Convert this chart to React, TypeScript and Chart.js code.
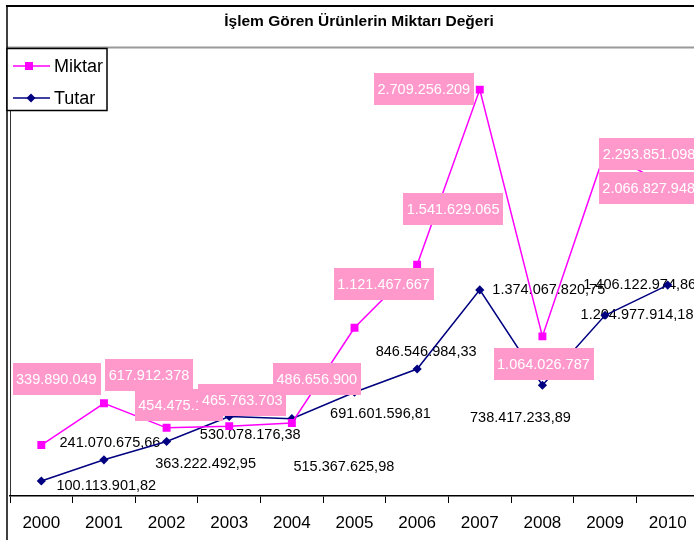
import React, { useEffect, useRef } from "react";
import { Chart, registerables } from "chart.js";

Chart.register(...registerables);

const chartTitle = "İşlem Gören Ürünlerin Miktarı Değeri";
const years = ["2000", "2001", "2002", "2003", "2004", "2005", "2006", "2007", "2008", "2009", "2010"];
const miktar = [339890049, 617912378, 454475150, 465763703, 486656900, 1121467667, 1541629065, 2709256209, 1064026787, 2293851098, 2066827948];
const tutar = [100113901.82, 241070675.66, 363222492.95, 530078176.38, 515367625.98, 691601596.81, 846546984.33, 1374067820.75, 738417233.89, 1204977914.18, 1406122974.86];

// label centre offsets relative to their points (px)
const miktarLabelOffsets = [[15, -66], [45, -28], [12, -23], [13, -26], [25, -44], [29, -44], [36, -56], [-56, -1], [1, 28], [44, 2], [-19, 2]];
const tutarLabelOffsets = [[65, 5], [6, -17], [39, 22], [21, 19], [52, 48], [26, 22], [9, -17], [69, 0], [-22, 33], [32, 0], [-28, 0]];

const FONT = "'Liberation Sans', Arial, sans-serif";

function fmtInt(v: number): string {
  return Math.round(v).toString().replace(/\B(?=(\d{3})+(?!\d))/g, ".");
}
function fmtDec(v: number): string {
  const c = Math.round(v * 100);
  const ip = Math.floor(c / 100);
  const dp = c % 100;
  return fmtInt(ip) + "," + String(dp).padStart(2, "0");
}

const framePlugin = {
  id: "frame",
  beforeDraw(chart: any) {
    const ctx = chart.ctx;
    const W = chart.width;
    const H = chart.height;
    const ca = chart.chartArea;
    ctx.save();
    ctx.fillStyle = "#ffffff";
    ctx.fillRect(0, 0, W, H);
    // title separator
    ctx.strokeStyle = "#999999";
    ctx.lineWidth = 2;
    ctx.beginPath();
    ctx.moveTo(7, 47.5);
    ctx.lineTo(W, 47.5);
    ctx.stroke();
    // top frame line
    ctx.strokeStyle = "#000000";
    ctx.lineWidth = 2;
    ctx.beginPath();
    ctx.moveTo(6, 6);
    ctx.lineTo(W, 6);
    ctx.stroke();
    // left frame line
    ctx.lineWidth = 1.5;
    ctx.beginPath();
    ctx.moveTo(7, 5);
    ctx.lineTo(7, H);
    ctx.stroke();
    // y axis line
    ctx.lineWidth = 1;
    ctx.strokeStyle = "#333333";
    ctx.beginPath();
    ctx.moveTo(ca.left + 0.5, 110);
    ctx.lineTo(ca.left + 0.5, ca.bottom);
    ctx.stroke();
    // title
    ctx.fillStyle = "#000000";
    ctx.font = `bold 15.5px ${FONT}`;
    ctx.textAlign = "center";
    ctx.textBaseline = "middle";
    ctx.fillText(chartTitle, 359, 22);
    ctx.restore();
  },
  beforeDatasetsDraw(chart: any) {
    const ctx = chart.ctx;
    const meta = chart.getDatasetMeta(1);
    ctx.save();
    ctx.font = `14.5px ${FONT}`;
    ctx.fillStyle = "#000000";
    ctx.textAlign = "center";
    ctx.textBaseline = "middle";
    meta.data.forEach((pt: any, i: number) => {
      const [dx, dy] = tutarLabelOffsets[i];
      ctx.fillText(fmtDec(tutar[i]), pt.x + dx, pt.y + dy);
    });
    ctx.restore();
  },
  afterDatasetsDraw(chart: any) {
    const ctx = chart.ctx;
    const meta = chart.getDatasetMeta(0);
    ctx.save();
    ctx.font = `14.5px ${FONT}`;
    ctx.textAlign = "center";
    ctx.textBaseline = "middle";
    meta.data.forEach((pt: any, i: number) => {
      const [dx, dy] = miktarLabelOffsets[i];
      const txt = fmtInt(miktar[i]);
      const w = ctx.measureText(txt).width + 7;
      const h = 32;
      const cx = pt.x + dx;
      const cy = pt.y + dy;
      ctx.fillStyle = "#FF99CC";
      ctx.fillRect(Math.round(cx - w / 2), Math.round(cy - h / 2), Math.round(w), h);
      ctx.fillStyle = "#ffffff";
      ctx.fillText(txt, cx, cy + 1);
    });
    ctx.restore();
  },
  afterDraw(chart: any) {
    const ctx = chart.ctx;
    ctx.save();
    // legend box
    ctx.fillStyle = "#ffffff";
    ctx.fillRect(7, 48, 100, 62);
    ctx.strokeStyle = "#000000";
    ctx.lineWidth = 1.5;
    ctx.strokeRect(7, 48.5, 100, 62);
    const items = chart.data.datasets;
    const ys = [66, 98];
    items.forEach((ds: any, i: number) => {
      const y = ys[i];
      ctx.strokeStyle = ds.borderColor;
      ctx.lineWidth = 1.5;
      ctx.beginPath();
      ctx.moveTo(13, y);
      ctx.lineTo(50, y);
      ctx.stroke();
      ctx.fillStyle = ds.borderColor;
      ctx.beginPath();
      if (ds.pointStyle === "rect") {
        ctx.rect(25, y - 4, 8, 8);
      } else {
        ctx.moveTo(31, y - 4.5);
        ctx.lineTo(35.5, y);
        ctx.lineTo(31, y + 4.5);
        ctx.lineTo(26.5, y);
        ctx.closePath();
      }
      ctx.fill();
      ctx.fillStyle = "#000000";
      ctx.font = `18px ${FONT}`;
      ctx.textAlign = "left";
      ctx.textBaseline = "middle";
      ctx.fillText(ds.label, 54, y + 1);
    });
    ctx.restore();
  },
};

export default function App() {
  const ref = useRef<HTMLCanvasElement | null>(null);
  useEffect(() => {
    if (!ref.current) return;
    const chart = new Chart(ref.current, {
      type: "line",
      data: {
        labels: years,
        datasets: [
          {
            label: "Miktar",
            data: miktar,
            borderColor: "#FF00FF",
            backgroundColor: "#FF00FF",
            pointBackgroundColor: "#FF00FF",
            pointBorderColor: "#FF00FF",
            pointStyle: "rect",
            pointRadius: 5.6,
            pointBorderWidth: 0,
            borderWidth: 1.5,
            tension: 0,
            fill: false,
          },
          {
            label: "Tutar",
            data: tutar,
            borderColor: "#000080",
            backgroundColor: "#000080",
            pointBackgroundColor: "#000080",
            pointBorderColor: "#000080",
            pointStyle: "rectRot",
            pointRadius: 4.6,
            pointBorderWidth: 0,
            borderWidth: 1.5,
            tension: 0,
            fill: false,
          },
        ],
      },
      options: {
        animation: false,
        responsive: false,
        maintainAspectRatio: false,
        layout: { padding: { left: 10, right: 21, top: 46, bottom: 0 } },
        plugins: {
          legend: { display: false },
          title: { display: false },
          tooltip: { enabled: false },
        },
        scales: {
          x: {
            type: "category",
            offset: true,
            grid: {
              offset: true,
              drawOnChartArea: false,
              drawTicks: true,
              tickLength: 7,
              color: "#000000",
              lineWidth: 1,
            },
            border: { color: "#000000", width: 1.5 },
            ticks: {
              color: "#000000",
              font: { family: FONT, size: 17 },
              padding: 10,
              maxRotation: 0,
              autoSkip: false,
            },
            afterFit(scale: any) {
              scale.height = 44;
            },
          },
          y: {
            display: false,
            min: 0,
            max: 3000000000,
          },
        },
      },
      plugins: [framePlugin],
    } as any);
    return () => chart.destroy();
  }, []);
  return (
    <div style={{ position: "fixed", left: 0, top: 0, width: 694, height: 540, overflow: "hidden", background: "#fff" }}>
      <canvas ref={ref} width={720} height={540} style={{ display: "block", width: 720, height: 540 }} />
    </div>
  );
}
